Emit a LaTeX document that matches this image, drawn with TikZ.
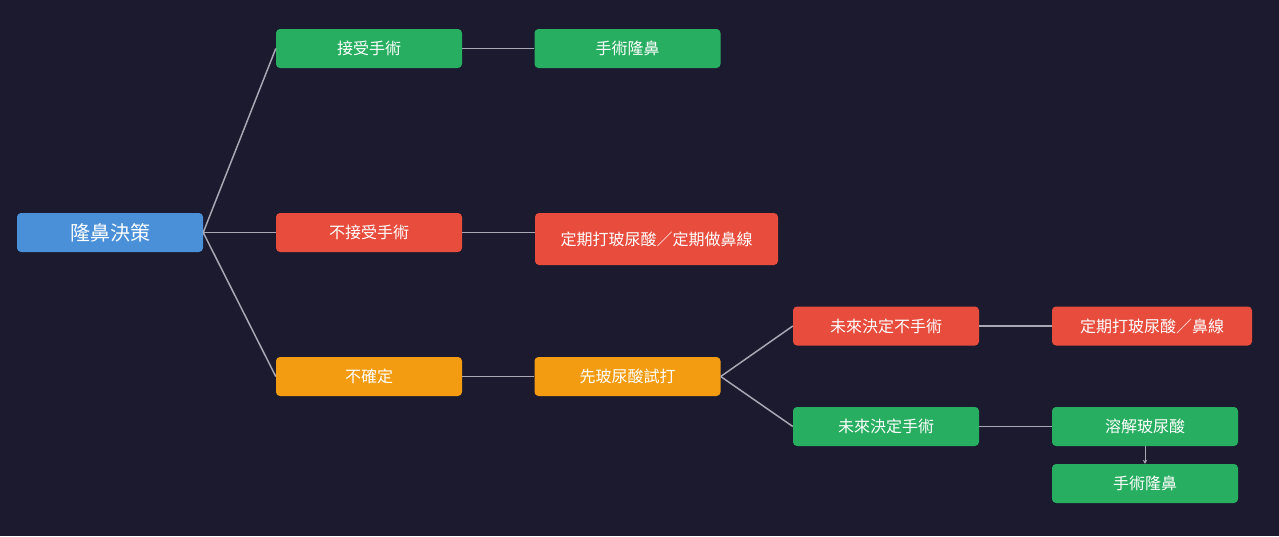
\documentclass[tikz,border=0pt]{standalone}
\usepackage{fontspec}
\setmainfont{Noto Sans CJK TC}
\usetikzlibrary{arrows.meta}
\definecolor{bgnavy}{HTML}{1B1A2E}
\definecolor{boxblue}{HTML}{4A90D9}
\definecolor{boxgreen}{HTML}{27AE60}
\definecolor{boxred}{HTML}{E74C3C}
\definecolor{boxorange}{HTML}{F39C12}
\definecolor{linkgray}{HTML}{A8A8B4}

\begin{document}
\begin{tikzpicture}[x=1pt, y=-1pt,
  box/.style={rounded corners=4pt, text=white, inner sep=0pt,
    minimum width=186pt, minimum height=39pt,
    font=\fontsize{16}{19}\selectfont},
  bluebox/.style={box, fill=boxblue, font=\fontsize{20}{24}\selectfont},
  greenbox/.style={box, fill=boxgreen},
  redbox/.style={box, fill=boxred},
  orangebox/.style={box, fill=boxorange},
  link/.style={draw=linkgray, line width=1.5pt},
]
  \fill[bgnavy] (0,0) rectangle (1279,536);
  \useasboundingbox (0,0) rectangle (1279,536);
  % root and first level
  \node[bluebox]   (root)   at (110,232.5) {隆鼻決策};
  \node[greenbox]  (yes)    at (369,48.5)  {接受手術};
  \node[redbox]    (no)     at (369,232.5) {不接受手術};
  \node[orangebox] (unsure) at (369,376.5) {不確定};
  % second level
  \node[greenbox]  (surgA)  at (627.5,48.5) {手術隆鼻};
  \node[redbox, minimum width=243pt, minimum height=52pt]
                   (keepA)  at (656.5,239)  {定期打玻尿酸／定期做鼻線};
  \node[orangebox] (trial)  at (627.5,376.5) {先玻尿酸試打};
  % third level
  \node[redbox]    (later no)  at (886,326)   {未來決定不手術};
  \node[greenbox]  (later yes) at (886,426.5) {未來決定手術};
  \node[redbox, minimum width=200pt]
                   (keepB)  at (1152,326)   {定期打玻尿酸／鼻線};
  \node[greenbox]  (dissolve) at (1145,426.5) {溶解玻尿酸};
  \node[greenbox]  (surgB)  at (1145,483.5) {手術隆鼻};
  % connectors
  \foreach \n in {yes, no, unsure} \draw[link] (root.east) -- (\n.west);
  \draw[link] (yes) -- (surgA);
  \draw[link] (no.east) -- (no.east -| keepA.west);
  \draw[link] (unsure) -- (trial);
  \draw[link] (trial.east) -- (later no.west);
  \draw[link] (trial.east) -- (later yes.west);
  \draw[link] (later no) -- (keepB.west |- later no);
  \draw[link] (later yes) -- (dissolve);
  \draw[link, line width=1pt, -{Stealth[length=4pt, width=4.5pt]}] (dissolve) -- (surgB);
\end{tikzpicture}
\end{document}
